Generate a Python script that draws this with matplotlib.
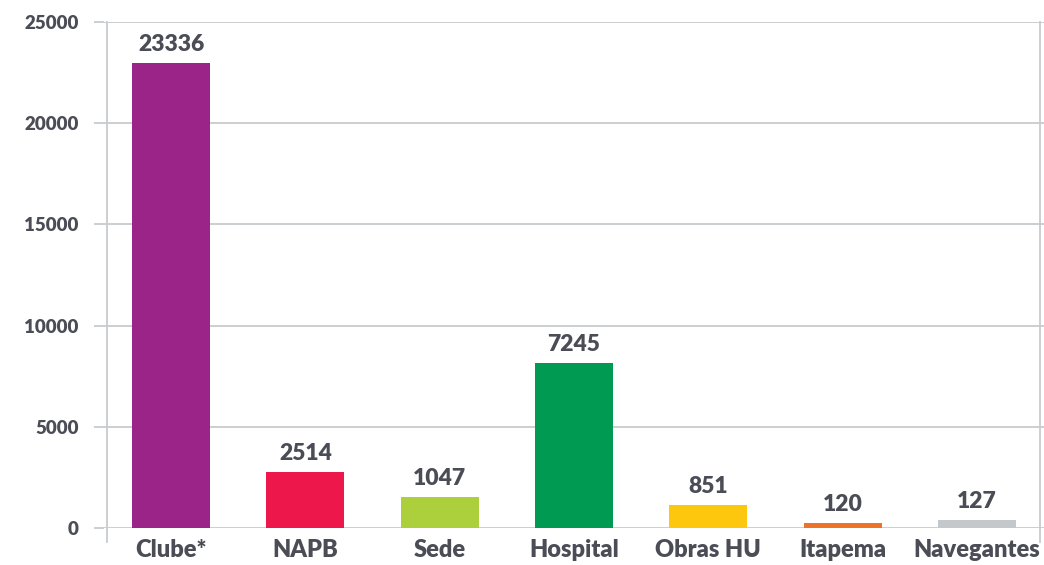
import matplotlib.pyplot as plt
import matplotlib.transforms as mtransforms
from matplotlib.lines import Line2D

# categories and values as shown in the chart
categories = ['Clube*', 'NAPB', 'Sede', 'Hospital', 'Obras HU', 'Itapema', 'Navegantes']
bar_heights = [22950, 2770, 1530, 8150, 1130, 250, 400]   # heights as drawn
bar_labels = ['23336', '2514', '1047', '7245', '851', '120', '127']  # printed values
bar_colors = ['#9b2489', '#ed174b', '#abd03c', '#009a52', '#fcc70c', '#ee7227', '#c4c8cb']
y_ticks = [0, 5000, 10000, 15000, 20000, 25000]

text_color = '#4a4d56'
grid_color = '#c8cbce'
weight = 'heavy'

plt.rcParams['font.family'] = ['Lato', 'DejaVu Sans']

fig = plt.figure(figsize=(10.44, 5.65), dpi=100)
ax = fig.add_axes([104 / 1044, 1 - 528 / 565, (1044 - 104) / 1044, (528 - 22) / 565])

x = range(len(categories))
ax.bar(x, bar_heights, width=0.58, color=bar_colors, zorder=3)

for xi, h, lab in zip(x, bar_heights, bar_labels):
    ax.annotate(lab, (xi, h), xytext=(0, 6), textcoords='offset points',
                ha='center', va='bottom', fontsize=16.5, fontweight=weight, color=text_color)

ax.set_xlim(-0.5, len(categories) - 0.5)
ax.set_ylim(0, 25000)
ax.set_yticks(y_ticks)
ax.set_yticklabels([str(t) for t in y_ticks])
ax.set_xticks(list(x))
ax.set_xticklabels(categories)

ax.grid(axis='y', color=grid_color, linewidth=1.3, zorder=0)
ax.tick_params(axis='y', length=7.2, width=1.3, color=grid_color, pad=11,
               labelsize=13.5, labelcolor=text_color)
ax.tick_params(axis='x', length=0, pad=8, labelsize=17, labelcolor=text_color)
for lbl in ax.get_xticklabels() + ax.get_yticklabels():
    lbl.set_fontweight(weight)

for s in ax.spines.values():
    s.set_visible(False)

# vertical frame lines that run a little below the zero line
trans = mtransforms.blended_transform_factory(ax.transData, ax.transAxes)
for xv in (-0.478, 6.47):
    ax.add_line(Line2D([xv, xv], [-0.027, 1], transform=trans,
                       color=grid_color, linewidth=1.3, clip_on=False, zorder=1))

fig.savefig('out.png', dpi=100)
